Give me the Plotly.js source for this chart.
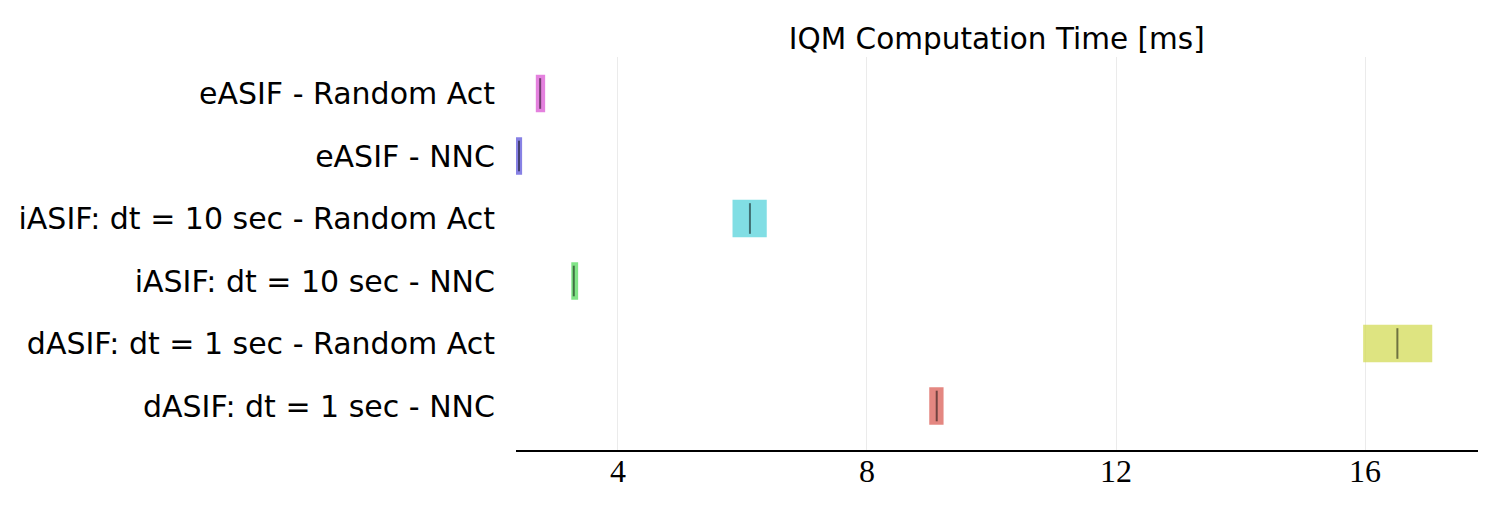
<!DOCTYPE html>
<html>
<head>
<meta charset="utf-8">
<script src="https://cdn.plot.ly/plotly-3.0.1.min.js"></script>
<style>html,body{margin:0;padding:0;background:#fff;}#chart{width:1500px;height:509px;}</style>
</head>
<body>
<div id="chart"></div>
<script>
// Categories listed bottom to top
var categories = [
  "dASIF: dt = 1 sec - NNC",
  "dASIF: dt = 1 sec - Random Act",
  "iASIF: dt = 10 sec - NNC",
  "iASIF: dt = 10 sec - Random Act",
  "eASIF - NNC",
  "eASIF - Random Act"
];
var ciLow  = [9.00, 15.97, 3.25, 5.84, 2.36, 2.68];
var ciHigh = [9.23, 17.08, 3.36, 6.39, 2.46, 2.83];
var iqm    = [9.12, 16.52, 3.29, 6.12, 2.41, 2.75];
var colors = [
  "rgba(219,95,87,0.75)",
  "rgba(211,219,87,0.75)",
  "rgba(87,219,95,0.75)",
  "rgba(87,211,219,0.75)",
  "rgba(95,87,219,0.75)",
  "rgba(219,87,211,0.75)"
];
var xTicks = [4, 8, 12, 16];

var idx = categories.map(function(_, i){ return i; });
var barTrace = {
  type: "bar",
  orientation: "h",
  y: idx,
  base: ciLow,
  x: ciLow.map(function(l, i){ return ciHigh[i] - l; }),
  width: 0.6,
  marker: {color: colors, line: {width: 0}},
  hoverinfo: "skip",
  showlegend: false
};
var mx = [], my = [];
iqm.forEach(function(v, i){
  mx.push(v, v, null);
  my.push(i - 0.245, i + 0.245, null);
});
var medTrace = {
  type: "scatter",
  mode: "lines",
  x: mx, y: my,
  line: {color: "rgba(0,0,0,0.5)", width: 2},
  hoverinfo: "skip",
  showlegend: false
};

var layout = {
  width: 1500, height: 509,
  margin: {l: 516, r: 22, t: 57, b: 59},
  paper_bgcolor: "#fff", plot_bgcolor: "#fff",
  title: {
    text: "IQM Computation Time [ms]",
    font: {family: "DejaVu Sans", size: 29.5, color: "#000"},
    x: 0.6645, xanchor: "center",
    y: 0.925, yanchor: "middle"
  },
  xaxis: {
    range: [2.362, 17.815],
    tickvals: xTicks,
    ticktext: xTicks.map(String),
    showgrid: true, gridcolor: "#ebebeb", gridwidth: 1,
    zeroline: false,
    showline: true, linecolor: "#000", linewidth: 2,
    ticks: "",
    ticklabelstandoff: -8,
    tickfont: {family: "Liberation Serif", size: 32, color: "#000"},
    fixedrange: true
  },
  yaxis: {
    range: [-0.704, 5.584],
    tickvals: idx,
    ticktext: categories,
    showgrid: false, zeroline: false, showline: false,
    ticks: "",
    ticklabelstandoff: 20,
    tickfont: {family: "DejaVu Sans", size: 30, color: "#000"},
    fixedrange: true
  },
  bargap: 0.4
};

Plotly.newPlot("chart", [barTrace, medTrace], layout, {displayModeBar: false, staticPlot: true});
</script>
</body>
</html>
